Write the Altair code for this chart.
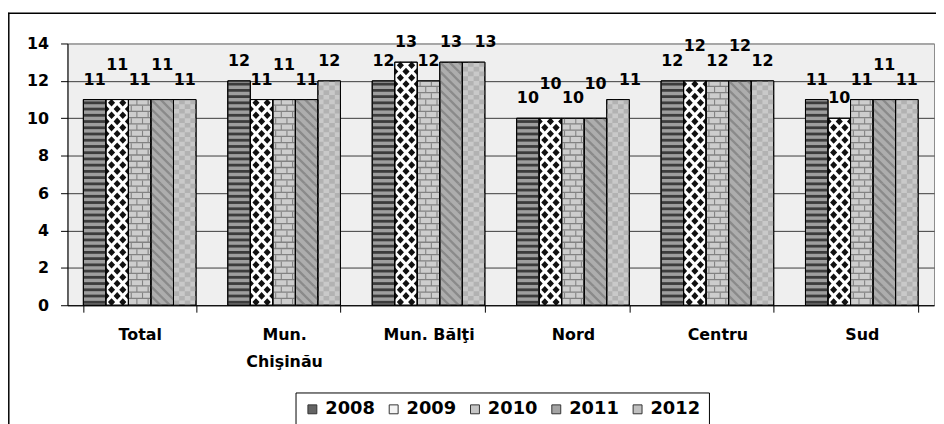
import altair as alt
import pandas as pd

# ---------------- data ----------------
regions = ["Total", "Mun. Chişinău", "Mun. Bălţi", "Nord", "Centru", "Sud"]
years = ["2008", "2009", "2010", "2011", "2012"]
v2008 = [11, 12, 12, 10, 12, 11]
v2009 = [11, 11, 13, 10, 12, 10]
v2010 = [11, 11, 12, 10, 12, 11]
v2011 = [11, 11, 13, 10, 12, 11]
v2012 = [11, 12, 13, 11, 12, 11]
y_ticks = [0, 2, 4, 6, 8, 10, 12, 14]

# ---------------- layout / style ----------------
FONT = "DejaVu Sans"
W_PLOT, H_PLOT = 874, 264
Y_MAX = 14
PPU = H_PLOT / Y_MAX
PAD_IN, PAD_OUT = 0.22, 0.11
STEP = W_PLOT / (len(regions) - PAD_IN + 2 * PAD_OUT)
BAR_W = STEP * (1 - PAD_IN) / len(years)
HW = BAR_W / 2
BASE = ["#9e9e9e", "#ffffff", "#cdcdcd", "#adadad", "#c9c9c9"]
LEGEND_COLORS = ["#646464", "#f4f4f4", "#c6c6c6", "#a4a4a4", "#c0c0c0"]

series = dict(zip(years, [v2008, v2009, v2010, v2011, v2012]))
df = pd.DataFrame([{"region": r, "year": y, "value": v}
                   for y in years for r, v in zip(regions, series[y])])

# label placement (simple overlap avoidance, derived from the values)
GAP, LIFT, TEXT_H, SHIFT = 15, 15, 13, 12
lab_rows = []
for ri, r in enumerate(regions):
    prev, prev_raised = None, False
    for y in years:
        v = series[y][ri]
        base = v * PPU + GAP
        lift = shift = 0
        if prev is not None and abs(base - prev) < TEXT_H:
            if not prev_raised and base + LIFT <= H_PLOT:
                lift = 1
            else:
                shift = 1
        lab_rows.append({"region": r, "year": y, "value": v, "lift": lift, "shift": shift})
        prev, prev_raised = base + lift * LIFT, lift == 1
lab_df = pd.DataFrame(lab_rows)


# ---------------- pattern tiles (symbol paths, px units) ----------------
def f(n):
    return f"{n:.2f}"


def poly(pts):
    return "M" + "L".join(f(x) + "," + f(y) for x, y in pts) + "Z"


def rect(x0, y0, x1, y1):
    return poly([(x0, y0), (x1, y0), (x1, y1), (x0, y1)])


def clip(pts, xmin, xmax, ymin, ymax):
    def edge(pts, inside, inter):
        out = []
        for i in range(len(pts)):
            cur, prv = pts[i], pts[i - 1]
            if inside(cur):
                if not inside(prv):
                    out.append(inter(prv, cur))
                out.append(cur)
            elif inside(prv):
                out.append(inter(prv, cur))
        return out

    def ix(p, q, x):
        t = (x - p[0]) / (q[0] - p[0])
        return (x, p[1] + t * (q[1] - p[1]))

    def iy(p, q, y):
        t = (y - p[1]) / (q[1] - p[1])
        return (p[0] + t * (q[0] - p[0]), y)

    for inside, inter in [
        (lambda p: p[0] >= xmin, lambda p, q: ix(p, q, xmin)),
        (lambda p: p[0] <= xmax, lambda p, q: ix(p, q, xmax)),
        (lambda p: p[1] >= ymin, lambda p, q: iy(p, q, ymin)),
        (lambda p: p[1] <= ymax, lambda p, q: iy(p, q, ymax)),
    ]:
        if not pts:
            return []
        pts = edge(pts, inside, inter)
    return pts


RH3 = PPU / 3  # row height of 1/3 unit
# 2008 horizontal stripes
p2008 = rect(-HW, -(1.6 + 2.8), HW, -1.6)
# 2009 diamonds
dw, dh = 3.6, 3.8
cy = -RH3 / 2


def diamond(cx):
    return poly([(cx, cy - dh), (cx + dw, cy), (cx, cy + dh), (cx - dw, cy)])


p2009a = diamond(-HW / 2) + diamond(HW / 2)
p2009b = (diamond(0) + poly([(-HW, cy - dh), (-HW + dw, cy), (-HW, cy + dh)])
          + poly([(HW, cy - dh), (HW - dw, cy), (HW, cy + dh)]))
# 2010 bricks
mort = rect(-HW, -1.3, HW, 0)


def joint(x):
    return rect(x - 0.55, -RH3, x + 0.55, -1.3)


p2010a = mort + joint(-HW / 4) + joint(3 * HW / 4)
p2010b = mort + joint(HW / 4) + joint(-3 * HW / 4)
# 2011 diagonal stripes
TH = PPU / 2
dthick = 3.3
parts = []
k0 = int((-TH - HW - dthick) // TH) - 1
k1 = int(HW // TH) + 2
for k in range(k0, k1 + 1):
    c = k * TH
    quad = [(-60, -60 + c), (60, 60 + c), (60, 60 + c + dthick), (-60, -60 + c + dthick)]
    cp = clip(quad, -HW, HW, -TH, 0)
    if len(cp) >= 3:
        parts.append(poly(cp))
p2011 = "".join(parts)
# 2012 checker
CH = PPU / 4
p2012a = rect(-HW, -CH, -HW / 2, 0) + rect(0, -CH, HW / 2, 0)
p2012b = rect(-HW / 2, -CH, 0, 0) + rect(HW / 2, -CH, HW, 0)

# ---------------- scales / axes ----------------
x_scale = alt.Scale(domain=regions, paddingInner=PAD_IN, paddingOuter=PAD_OUT)
xo_scale = alt.Scale(domain=years, paddingInner=0, paddingOuter=0)
y_scale = alt.Scale(domain=[0, Y_MAX], nice=False)

x_axis = alt.Axis(
    title=None, labelAngle=0, labelFont=FONT, labelFontSize=16, labelFontWeight="bold",
    labelColor="black", labelPadding=15, labelLineHeight=27, labelBaseline="top",
    labelExpr="datum.label == 'Mun. Chişinău' ? ['Mun.', 'Chişinău'] : datum.label",
    tickBand="extent", tickSize=7, tickColor="black", domainColor="black", grid=False,
)
y_axis = alt.Axis(
    title=None, values=y_ticks, labelFont=FONT, labelFontSize=16, labelFontWeight="bold",
    labelColor="black", labelPadding=12, tickSize=7, tickColor="black", domainColor="black",
    grid=True,
    gridColor={"condition": {"test": "datum.value === 14", "value": "#8c8c8c"}, "value": "#3a3a3a"},
)


def enc(yfield):
    return dict(
        x=alt.X("region:N", scale=x_scale, axis=x_axis),
        xOffset=alt.XOffset("year:N", scale=xo_scale),
        y=alt.Y(yfield, scale=y_scale, axis=y_axis),
    )


base = alt.Chart(df).mark_bar(stroke="black", strokeWidth=1).encode(
    **enc("value:Q"),
    fill=alt.Fill("year:N", scale=alt.Scale(domain=years, range=BASE), legend=None),
)

legend_layer = alt.Chart(df).transform_filter("false").mark_bar(
    stroke="black", strokeWidth=1
).encode(
    **enc("value:Q"),
    fill=alt.Fill("year:N", scale=alt.Scale(domain=years, range=LEGEND_COLORS), legend=alt.Legend(
        title=None, orient="none", legendX=230, legendY=352, direction="horizontal",
        strokeColor="black", fillColor="white", padding=8, labelFont=FONT, labelFontSize=18,
        labelFontWeight="bold", labelColor="black", symbolType="square", symbolSize=81,
        symbolStrokeColor="#333", symbolStrokeWidth=1, columnPadding=9, labelOffset=4,
    )),
)


def tiles(year, path, start, step, color):
    return alt.Chart(df).transform_filter(alt.datum.year == year).transform_calculate(
        pos=f"sequence({start}, datum.value - 0.01, {step})"
    ).transform_flatten(["pos"]).mark_point(
        shape=path, size=4, filled=True, color=color, opacity=1, strokeWidth=0
    ).encode(**enc("pos:Q"))


layers = [
    base,
    legend_layer,
    tiles("2008", p2008, 0, 1 / 3, "#3c3c3c"),
    tiles("2009", p2009a, 0, 2 / 3, "#111111"),
    tiles("2009", p2009b, 1 / 3, 2 / 3, "#111111"),
    tiles("2010", p2010a, 0, 2 / 3, "#828282"),
    tiles("2010", p2010b, 1 / 3, 2 / 3, "#828282"),
    tiles("2011", p2011, 0, 0.5, "#8a8a8a"),
    tiles("2012", p2012a, 0, 0.5, "#b2b2b2"),
    tiles("2012", p2012b, 0.25, 0.5, "#b2b2b2"),
    alt.Chart(df).mark_bar(fillOpacity=0, stroke="black", strokeWidth=1).encode(**enc("value:Q")),
]

combos = sorted({(r["lift"], r["shift"]) for r in lab_rows})
for lift, shift in combos:
    layers.append(
        alt.Chart(lab_df).transform_filter(
            (alt.datum.lift == lift) & (alt.datum.shift == shift)
        ).mark_text(
            font=FONT, fontSize=16, fontWeight="bold", color="black", align="center",
            baseline="alphabetic", dy=-(GAP + lift * LIFT), dx=shift * SHIFT,
        ).encode(**enc("value:Q"), text=alt.Text("value:Q"))
    )

frame_df = pd.DataFrame({"k": [0]})
layers.append(alt.Chart(frame_df).mark_rule(color="black", strokeWidth=1.5).encode(
    x=alt.value(-60), x2=alt.value(W_PLOT + 2), y=alt.value(-30.5)))
layers.append(alt.Chart(frame_df).mark_rule(color="black", strokeWidth=1.5).encode(
    x=alt.value(-59.2), y=alt.value(-31), y2=alt.value(H_PLOT + 120)))

chart = alt.layer(*layers).resolve_scale(fill="independent").properties(
    width=W_PLOT, height=H_PLOT,
    autosize=alt.AutoSizeParams(type="none"),
    padding={"left": 60, "top": 34, "right": 2, "bottom": 118},
    background="white",
).configure_view(fill="#efefef", stroke="#8c8c8c", strokeWidth=1)

chart.save("out.html", embed_options={"renderer": "svg", "actions": False})
